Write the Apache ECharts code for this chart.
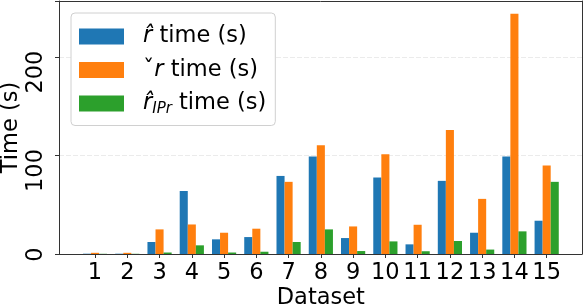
<!DOCTYPE html>
<html>
<head>
<meta charset="utf-8">
<script src="https://cdn.jsdelivr.net/npm/echarts@6/dist/echarts.min.js"></script>
<style>
html,body{margin:0;padding:0;background:#fff;}
#chart{width:584px;height:308px;}
</style>
</head>
<body>
<div id="chart"></div>
<script>
const categories = ['1','2','3','4','5','6','7','8','9','10','11','12','13','14','15'];
const rHatTime = [0.3, 0.3, 12.2, 64, 14.9, 17.2, 79.3, 99, 16.2, 77.7, 9.8, 74.3, 21.6, 99, 33.8];
const rCheckTime = [1.2, 1.2, 25, 30, 21.6, 25.7, 73.3, 110.4, 28, 101.3, 29.7, 126, 56, 244, 89.8];
const rIPrTime = [0.2, 0.2, 1.5, 8.8, 1.5, 2.3, 12.2, 25, 3, 12.8, 2.8, 13.2, 4.5, 23, 73.3];
const yTicks = [0, 100, 200];
const seriesNames = ['r\u0302 time (s)', '\u02C7r time (s)', 'r\u0302IPr time (s)'];

const FONT = 'DejaVu Sans';
const FS = 22.5;
const YMAX = 257;
const FRAME = '#333';
const chart = echarts.init(document.getElementById('chart'), null, {renderer: 'canvas'});

const legendRich = {
  it: {fontFamily: FONT, fontSize: FS, fontStyle: 'italic', lineHeight: 26, color: '#000'},
  n: {fontFamily: FONT, fontSize: FS, lineHeight: 26, color: '#000'},
  sub: {fontFamily: FONT, fontSize: 15, fontStyle: 'italic', lineHeight: 15, verticalAlign: 'bottom', color: '#000'}
};

function frameAxis(extra) {
  return Object.assign({
    type: 'value', gridIndex: 0, min: 0, max: 1,
    axisLine: {show: true, onZero: false, lineStyle: {color: FRAME, width: 1}},
    axisTick: {show: false}, axisLabel: {show: false}, splitLine: {show: false}
  }, extra);
}

const option = {
  backgroundColor: '#fff',
  animation: false,
  grid: [
    {left: 59, right: 2, top: 1, bottom: 54, containLabel: false, outerBoundsMode: 'none'},
    {left: 78.9, right: 21.2, top: 1, bottom: 54, containLabel: false, outerBoundsMode: 'none'}
  ],
  xAxis: [
    frameAxis({position: 'bottom'}),
    {
      type: 'category', gridIndex: 1, data: categories,
      axisLine: {show: false},
      axisTick: {show: true, alignWithLabel: true, length: 4, lineStyle: {color: FRAME}},
      axisLabel: {fontFamily: FONT, fontSize: FS, color: '#000', margin: 8, interval: 0},
      name: 'Dataset', nameLocation: 'middle', nameGap: 33, nameMoveOverlap: false,
      nameTextStyle: {fontFamily: FONT, fontSize: FS, color: '#000'}
    },
    frameAxis({position: 'top'})
  ],
  yAxis: [
    {
      type: 'value', gridIndex: 0, min: 0, max: YMAX, interval: 100,
      axisLine: {show: true, onZero: false, lineStyle: {color: FRAME, width: 1}},
      axisTick: {show: true, length: 4, lineStyle: {color: FRAME}},
      axisLabel: {
        fontFamily: FONT, fontSize: FS, color: '#000', rotate: 90, margin: 11,
        align: 'right', verticalAlign: 'bottom', padding: [0, -6.5, 0, 0],
        formatter: function (v) { return yTicks.indexOf(v) >= 0 ? String(v) : ''; }
      },
      splitLine: {show: true, showMinLine: false, showMaxLine: false,
                  lineStyle: {color: '#ebebeb', width: 1, type: [5, 2]}},
      name: 'Time (s)', nameLocation: 'middle', nameGap: 36, nameMoveOverlap: false,
      nameTextStyle: {fontFamily: FONT, fontSize: FS, color: '#000'}
    },
    {type: 'value', gridIndex: 1, min: 0, max: YMAX, show: false, splitLine: {show: false}},
    Object.assign(frameAxis({position: 'right'}), {max: YMAX})
  ],
  legend: {
    orient: 'vertical', left: 71, top: 13,
    padding: [12, 9, 9, 8],
    itemWidth: 45, itemHeight: 16, itemGap: 10.5,
    backgroundColor: '#fff', borderColor: '#d0d0d0', borderWidth: 1, borderRadius: 4,
    icon: 'rect',
    data: seriesNames,
    textStyle: {fontFamily: FONT, fontSize: FS, color: '#000', padding: [0, 0, 0, 14], rich: legendRich},
    formatter: function (name) {
      if (name === seriesNames[0]) return '{it|r\u0302}{n| time (s)}';
      if (name === seriesNames[1]) return '{n|\u02C7}{it|r}{n| time (s)}';
      return '{it|r\u0302}{sub|IPr}{n| time (s)}';
    }
  },
  series: [
    {name: seriesNames[0], type: 'bar', xAxisIndex: 1, yAxisIndex: 1, data: rHatTime, barWidth: '25%', barGap: '0%', itemStyle: {color: '#1f77b4'}},
    {name: seriesNames[1], type: 'bar', xAxisIndex: 1, yAxisIndex: 1, data: rCheckTime, barWidth: '25%', barGap: '0%', itemStyle: {color: '#ff7f0e'}},
    {name: seriesNames[2], type: 'bar', xAxisIndex: 1, yAxisIndex: 1, data: rIPrTime, barWidth: '25%', barGap: '0%', itemStyle: {color: '#2ca02c'}}
  ]
};
chart.setOption(option);
</script>
</body>
</html>
